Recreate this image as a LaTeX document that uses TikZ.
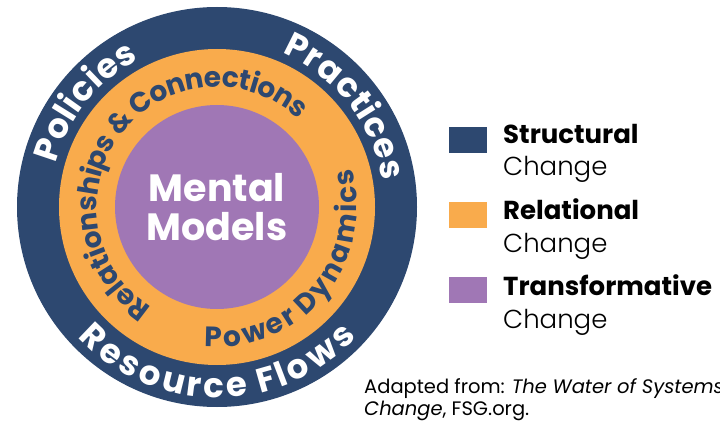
\documentclass[tikz,border=0pt]{standalone}
\usepackage{fontspec}
\setmainfont{Poppins}
\newfontfamily\lightfamily{Poppins Light}
\usetikzlibrary{calc}
\usetikzlibrary{decorations.text}
\definecolor{navy}{HTML}{2D4870}
\definecolor{amber}{HTML}{F9AB4C}
\definecolor{lilac}{HTML}{A077B5}
\newcommand\ringfont{\fontsize{34}{34}\selectfont\bfseries}
\newcommand\bandfont{\fontsize{28}{28}\selectfont\bfseries}

\begin{document}
\begin{tikzpicture}[x=1pt,y=1pt,
    arctext/.style n args={2}{decorate,decoration={text effects along path,text={#2},
        text effects/.cd,text along path,fit text to path,characters={#1}}},
    keybox/.style={minimum width=38pt,minimum height=26pt,inner sep=0pt},
    keytext/.style={anchor=base west,inner sep=0pt,font=\fontsize{26}{26}\selectfont}]
    \useasboundingbox (0,0) rectangle (720,421);
    \coordinate (c) at (217,214);

    %rings
    \fill[navy] (c) circle[radius=200];
    \fill[amber] (c) circle[radius=158];
    \fill[lilac] (c) circle[radius=102];

    %outer ring
    \path[arctext={text=white,font=\ringfont}{Policies}] ($(c)+(165:167)$) arc[start angle=165,end angle=118,radius=167];
    \path[arctext={text=white,font=\ringfont}{Practices}] ($(c)+(67:167)$) arc[start angle=67,end angle=9,radius=167];
    \path[arctext={text=white,font=\ringfont}{Resource Flows}] ($(c)+(223:191)$) arc[start angle=223,end angle=317,radius=191];

    %middle ring
    \path[arctext={text=navy,font=\bandfont}{Relationships {\&} Connections}] ($(c)+(237:120)$) arc[start angle=237,end angle=47,radius=120];
    \path[arctext={text=navy,font=\bandfont}{Power Dynamics}] ($(c)+(265:140)$) arc[start angle=265,end angle=376,radius=140];

    %core
    \node[font=\fontsize{38}{39}\selectfont\bfseries,text=white,align=center] (mind) at (c) {Mental\\Models};

    %legend
    \node[keybox,fill=navy] (kstruct) at (468,281) {};
    \node[keybox,fill=amber] (krel) at (468,206) {};
    \node[keybox,fill=lilac] (ktrans) at (468,131) {};
    \node[keytext] (tstruct) at (503,277) {\textbf{Structural}};
    \node[keytext] (cstruct) at (503,245) {\lightfamily Change};
    \node[keytext] (trel) at (503,201) {\textbf{Relational}};
    \node[keytext] (crel) at (503,169) {\lightfamily Change};
    \node[keytext] (ttrans) at (503,126) {\textbf{Transformative}};
    \node[keytext] (ctrans) at (503,93) {\lightfamily Change};

    %source
    \node[anchor=base west,inner sep=0pt,font=\fontsize{19.5}{19.5}\selectfont] (src1) at (364,28) {Adapted from: \textit{The Water of Systems}};
    \node[anchor=base west,inner sep=0pt,font=\fontsize{19.5}{19.5}\selectfont] (src2) at (364,6) {\textit{Change}, FSG.org.};
\end{tikzpicture}
\end{document}
